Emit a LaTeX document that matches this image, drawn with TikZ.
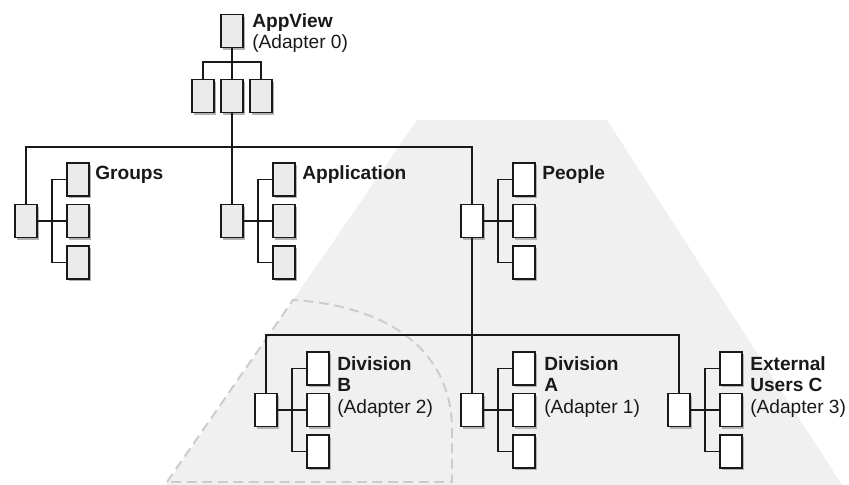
\documentclass[tikz,border=0pt]{standalone}
\usepackage{fontspec}
\setmainfont{Liberation Sans}
\usetikzlibrary{calc,shadows}

\tikzset{
  unit/.style={draw=black!90, line width=1.4pt, minimum width=0.55cm,
    minimum height=0.825cm, inner sep=0pt,
    drop shadow={shadow xshift=1.6pt, shadow yshift=-1.6pt, fill=black!30, opacity=1}},
  tree/.style={line width=1.7pt, draw=black!90},
  twig/.style={line width=1.2pt, draw=black!90},
  lbl/.style={anchor=base west, inner sep=0pt, align=left, text=black!90,
    font=\fontsize{13.6}{15.2}\selectfont},
  zone/.style={fill=black!6},
  border/.style={draw=black!20, line width=1.4pt, dash pattern=on 7pt off 4pt}
}

\begin{document}
\begin{tikzpicture}[x=0.025cm, y=-0.025cm]
  \useasboundingbox (0,0) rectangle (849,485);

  % shaded area and dashed outline
  \fill[zone] (417,120) -- (607,120) -- (842,485) -- (166,485) -- cycle;
  \draw[border] (167,482) -- (293,300) .. controls (380,305) and (452,345) .. (452,430)
    -- (452,482) -- cycle;

  % root
  \node[unit, fill=black!8] (appview) at (232,31) {};
  \node[unit, fill=black!8] (av-1) at (203,96) {};
  \node[unit, fill=black!8] (av-2) at (232,96) {};
  \node[unit, fill=black!8] (av-3) at (261,96) {};
  \coordinate (topbar) at (232,62);
  \draw[twig] (appview.south) -- (topbar);
  \draw[twig] (av-1.north) -- (av-1.north |- topbar) -- (av-3.north |- topbar) -- (av-3.north);
  \draw[twig] (topbar) -- (av-2.north);

  % groups of units
  \foreach \g/\rx/\ry/\shade in {grp/26/221/black!8, app/232/221/black!8,
      ppl/472/221/white, divb/266/410/white, diva/472/410/white, ext/679/410/white} {
    \node[unit, fill=\shade] (\g) at (\rx,\ry) {};
    \node[unit, fill=\shade] (\g-1) at (\rx+52,\ry-41.5) {};
    \node[unit, fill=\shade] (\g-2) at (\rx+52,\ry) {};
    \node[unit, fill=\shade] (\g-3) at (\rx+52,\ry+41.5) {};
    \coordinate (\g-k) at ($(\g.east)!.5!(\g-2.west)$);
    \draw[twig] (\g.east) -- (\g-2.west);
    \draw[twig] (\g-1.west) -| (\g-k) |- (\g-3.west);
  }

  % main branches
  \coordinate (mainbar) at (232,147);
  \coordinate (lowbar) at (472,335);
  \draw[tree] (av-2.south) -- (app.north);
  \draw[tree] (grp.north) -- (grp.north |- mainbar) -- (ppl.north |- mainbar) -- (ppl.north);
  \draw[tree] (ppl.south) -- (diva.north);
  \draw[tree] (divb.north) -- (divb.north |- lowbar) -- (ext.north |- lowbar) -- (ext.north);

  % labels (base = last line)
  \node[lbl] (appview-t) at (252,48.5) {\textbf{AppView}\\(Adapter 0)};
  \node[lbl] (grp-t) at (95,180) {\textbf{Groups}};
  \node[lbl] (app-t) at (302,180) {\textbf{Application}};
  \node[lbl] (ppl-t) at (542,180) {\textbf{People}};
  \node[lbl] (divb-t) at (337,413) {\textbf{Division}\\\textbf{B}\\(Adapter 2)};
  \node[lbl] (diva-t) at (544,413) {\textbf{Division}\\\textbf{A}\\(Adapter 1)};
  \node[lbl] (ext-t) at (750,413) {\textbf{External}\\\textbf{Users C}\\(Adapter 3)};
\end{tikzpicture}
\end{document}
